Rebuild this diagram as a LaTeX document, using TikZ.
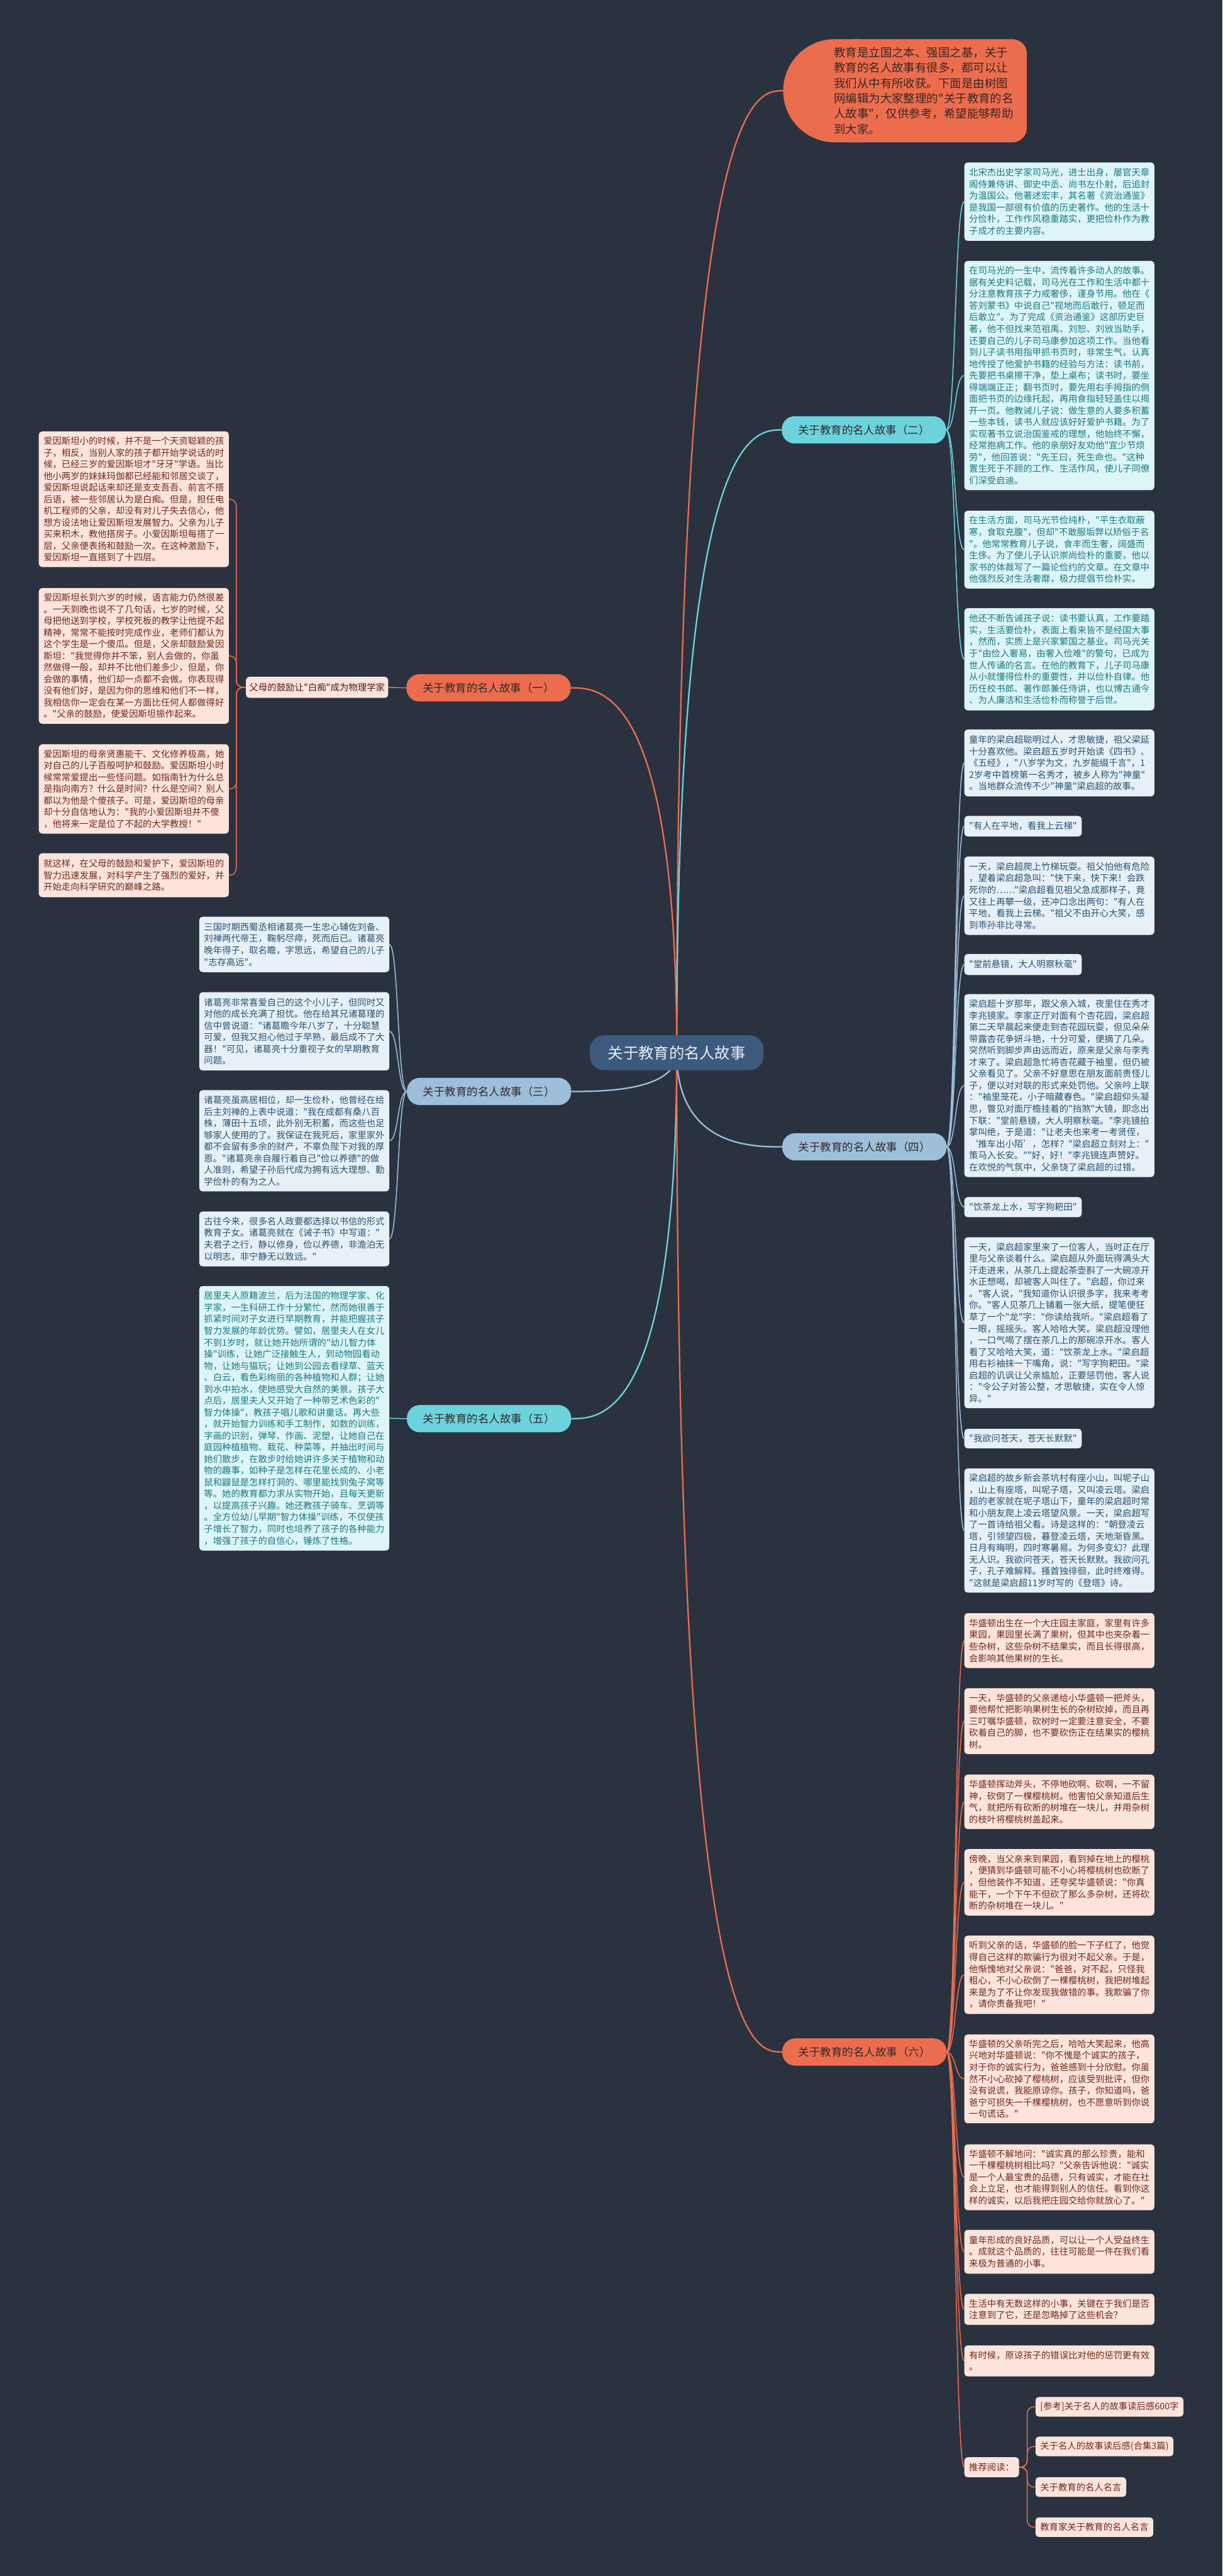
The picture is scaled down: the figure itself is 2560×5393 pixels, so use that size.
\documentclass[tikz,border=0pt]{standalone}
\usepackage{fontspec}
\newfontfamily\cjk{Noto Sans CJK SC}
\definecolor{bg}{HTML}{2A3240}
\definecolor{coral}{HTML}{EC6D4E}
\definecolor{cyanc}{HTML}{6CD3DD}
\definecolor{lblue}{HTML}{9DBFD9}
\definecolor{ctrc}{HTML}{3D5A7E}
\definecolor{ctrtext}{HTML}{E8EEF5}
\definecolor{brtext}{HTML}{33292A}
\definecolor{toptext}{HTML}{3A2723}
\definecolor{pinkfill}{HTML}{FCE4DC}
\definecolor{pinktext}{HTML}{6E2A1E}
\definecolor{cyfill}{HTML}{DDF5F7}
\definecolor{cytext}{HTML}{1A7A84}
\definecolor{blfill}{HTML}{E7F0F7}
\definecolor{bltext}{HTML}{2A5372}
\pgfdeclarelayer{bgl}
\pgfdeclarelayer{edges}
\pgfsetlayers{bgl,edges,main}
\newcommand{\bxfont}{\cjk\fontsize{18.9pt}{24.4pt}\selectfont}
\newcommand{\brfont}{\cjk\fontsize{23pt}{28pt}\selectfont}
\newcommand{\ctfont}{\cjk\fontsize{32pt}{38pt}\selectfont}
\newcommand{\tpfont}{\cjk\fontsize{24.3pt}{32pt}\selectfont}
\newcommand{\lbfont}{\cjk\fontsize{19pt}{22pt}\selectfont}
\tikzset{
  tbox/.style={rectangle, rounded corners=7pt, anchor=north west, text width=378pt, inner xsep=10pt, inner ysep=2pt, align=left, font=\bxfont},
  qbox/.style={rectangle, rounded corners=7pt, anchor=north west, inner xsep=10pt, inner ysep=2pt, align=left, font=\bxfont},
  pinkbox/.style={fill=pinkfill, text=pinktext},
  cybox/.style={fill=cyfill, text=cytext},
  blbox/.style={fill=blfill, text=bltext},
  branch/.style={rectangle, rounded corners=27pt, minimum width=344pt, minimum height=57pt, font=\brfont, inner sep=0pt},
  cline/.style={line width=3pt},
  sline/.style={line width=2pt},
}
\begin{document}
\begin{tikzpicture}[x=1pt,y=-1pt]
\useasboundingbox (0,0) rectangle (2560,5393);
\begin{pgfonlayer}{bgl}
\fill[bg] (0,0) rectangle (2560,5393);
\end{pgfonlayer}

% top bubble
\fill[coral, rounded corners=108pt] (1640,82) rectangle (1900,298);
\fill[coral, rounded corners=30pt] (1760,82) rectangle (2150,298);
\node[anchor=west, align=left, font=\tpfont, text=toptext, inner sep=0pt] (toptxt) at (1746,190) {教育是立国之本、强国之基，关于\\教育的名人故事有很多，都可以让\\我们从中有所收获。下面是由树图\\网编辑为大家整理的"关于教育的名\\人故事"，仅供参考，希望能够帮助\\到大家。};
\coordinate (topw) at (1640,190);

% center
\node[rectangle, rounded corners=30pt, fill=ctrc, text=ctrtext, minimum width=364pt, minimum height=73pt, font=\ctfont, inner sep=0pt] (ctr) at (1417,2204) {关于教育的名人故事};

% branches
\node[branch, fill=coral, text=brtext] (n1) at (1023,1440) {关于教育的名人故事（一）};
\node[branch, fill=cyanc, text=brtext] (n2) at (1809,900) {关于教育的名人故事（二）};
\node[branch, fill=lblue, text=brtext] (n3) at (1024,2285) {关于教育的名人故事（三）};
\node[branch, fill=lblue, text=brtext] (n4) at (1810,2401) {关于教育的名人故事（四）};
\node[branch, fill=cyanc, text=brtext] (n5) at (1024,2970) {关于教育的名人故事（五）};
\node[branch, fill=coral, text=brtext] (n6) at (1810,4296) {关于教育的名人故事（六）};

% (一)
\node[rectangle, rounded corners=7pt, fill=pinkfill, text=pinktext!70!black, minimum width=298pt, minimum height=44pt, font=\lbfont, inner sep=0pt] (lab) at (664,1439) {父母的鼓励让"白痴"成为物理学家};
\node[tbox, pinkbox, minimum height=284pt] (a1) at (81,903) {爱因斯坦小的时候，并不是一个天资聪颖的孩\\子，相反，当别人家的孩子都开始学说话的时\\候，已经三岁的爱因斯坦才"牙牙"学语。当比\\他小两岁的妹妹玛伽都已经能和邻居交谈了，\\爱因斯坦说起话来却还是支支吾吾、前言不搭\\后语，被一些邻居认为是白痴。但是，担任电\\机工程师的父亲，却没有对儿子失去信心，他\\想方设法地让爱因斯坦发展智力。父亲为儿子\\买来积木，教他搭房子。小爱因斯坦每搭了一\\层，父亲便表扬和鼓励一次。在这种激励下，\\爱因斯坦一直搭到了十四层。};
\node[tbox, pinkbox, minimum height=284pt] (a2) at (81,1231) {爱因斯坦长到六岁的时候，语言能力仍然很差\\。一天到晚也说不了几句话，七岁的时候，父\\母把他送到学校，学校死板的教学让他提不起\\精神，常常不能按时完成作业，老师们都认为\\这个学生是一个傻瓜。但是，父亲却鼓励爱因\\斯坦："我觉得你并不笨，别人会做的，你虽\\然做得一般，却并不比他们差多少，但是，你\\会做的事情，他们却一点都不会做。你表现得\\没有他们好，是因为你的思维和他们不一样，\\我相信你一定会在某一方面比任何人都做得好\\。"父亲的鼓励，使爱因斯坦振作起来。};
\node[tbox, pinkbox, minimum height=187pt] (a3) at (81,1558) {爱因斯坦的母亲贤惠能干、文化修养极高，她\\对自己的儿子百般呵护和鼓励。爱因斯坦小时\\候常常爱提出一些怪问题。如指南针为什么总\\是指向南方？什么是时间？什么是空间？别人\\都以为他是个傻孩子。可是，爱因斯坦的母亲\\却十分自信地认为："我的小爱因斯坦并不傻\\，他将来一定是位了不起的大学教授！"};
\node[tbox, pinkbox, minimum height=92pt] (a4) at (81,1786) {就这样，在父母的鼓励和爱护下，爱因斯坦的\\智力迅速发展，对科学产生了强烈的爱好，并\\开始走向科学研究的巅峰之路。};

% (二)
\node[tbox, cybox, minimum height=164pt] (e1) at (2019,340) {北宋杰出史学家司马光，进士出身，屡官天章\\阁侍兼侍讲、御史中丞、尚书左仆射，后追封\\为温国公。他著述宏丰，其名著《资治通鉴》\\是我国一部很有价值的历史著作。他的生活十\\分俭朴，工作作风稳重踏实，更把俭朴作为教\\子成才的主要内容。};
\node[tbox, cybox, minimum height=480pt] (e2) at (2019,546) {在司马光的一生中，流传着许多动人的故事。\\据有关史料记载，司马光在工作和生活中都十\\分注意教育孩子力戒奢侈，谨身节用。他在《\\答刘蒙书》中说自己"视地而后敢行，顿足而\\后敢立"。为了完成《资治通鉴》这部历史巨\\著，他不但找来范祖禹、刘恕、刘攽当助手，\\还要自己的儿子司马康参加这项工作。当他看\\到儿子读书用指甲抓书页时，非常生气，认真\\地传授了他爱护书籍的经验与方法：读书前，\\先要把书桌擦干净，垫上桌布；读书时，要坐\\得端端正正；翻书页时，要先用右手拇指的侧\\面把书页的边缘托起，再用食指轻轻盖住以揭\\开一页。他教诫儿子说：做生意的人要多积蓄\\一些本钱，读书人就应该好好爱护书籍。为了\\实现著书立说治国鉴戒的理想，他始终不懈，\\经常抱病工作。他的亲朋好友劝他"宜少节烦\\劳"，他回答说："先王曰，死生命也。"这种\\置生死于不顾的工作、生活作风，使儿子同僚\\们深受启迪。};
\node[tbox, cybox, minimum height=163pt] (e3) at (2019,1069) {在生活方面，司马光节俭纯朴，"平生衣取蔽\\寒，食取充腹"，但却"不敢服垢弊以矫俗于名\\"。他常常教育儿子说，食丰而生奢，阔盛而\\生侈。为了使儿子认识崇尚俭朴的重要，他以\\家书的体裁写了一篇论俭约的文章。在文章中\\他强烈反对生活奢靡，极力提倡节俭朴实。};
\node[tbox, cybox, minimum height=214pt] (e4) at (2019,1273) {他还不断告诫孩子说：读书要认真，工作要踏\\实，生活要俭朴，表面上看来皆不是经国大事\\，然而，实质上是兴家繁国之基业。司马光关\\于"由俭入奢易，由奢入俭难"的警句，已成为\\世人传诵的名言。在他的教育下，儿子司马康\\从小就懂得俭朴的重要性，并以俭朴自律。他\\历任校书郎、著作郎兼任侍讲，也以博古通今\\、为人廉洁和生活俭朴而称誉于后世。};

% (三)
\node[tbox, blbox, minimum height=116pt] (b1) at (417,1919) {三国时期西蜀丞相诸葛亮一生忠心辅佐刘备、\\刘禅两代帝王，鞠躬尽瘁，死而后已。诸葛亮\\晚年得子，取名瞻，字思远，希望自己的儿子\\"志存高远"。};
\node[tbox, blbox, minimum height=164pt] (b2) at (417,2077) {诸葛亮非常喜爱自己的这个小儿子，但同时又\\对他的成长充满了担忧。他在给其兄诸葛瑾的\\信中曾说道："诸葛瞻今年八岁了，十分聪慧\\可爱，但我又担心他过于早熟，最后成不了大\\器！"可见，诸葛亮十分重视子女的早期教育\\问题。};
\node[tbox, blbox, minimum height=212pt] (b3) at (417,2282) {诸葛亮虽高居相位，却一生俭朴，他曾经在给\\后主刘禅的上表中说道："我在成都有桑八百\\株，薄田十五顷，此外别无积蓄，而这些也足\\够家人使用的了。我保证在我死后，家里家外\\都不会留有多余的财产，不辜负陛下对我的厚\\恩。"诸葛亮亲自履行着自己"俭以养德"的做\\人准则，希望子孙后代成为拥有远大理想、勤\\学俭朴的有为之人。};
\node[tbox, blbox, minimum height=115pt] (b4) at (417,2536) {古往今来，很多名人政要都选择以书信的形式\\教育子女。诸葛亮就在《诫子书》中写道："\\夫君子之行，静以修身，俭以养德，非澹泊无\\以明志，非宁静无以致远。"};

% (四)
\node[tbox, blbox, minimum height=140pt] (f1) at (2019,1527) {童年的梁启超聪明过人，才思敏捷，祖父梁延\\十分喜欢他。梁启超五岁时开始读《四书》、\\《五经》，"八岁学为文，九岁能缀千言"，1\\2岁考中首榜第一名秀才，被乡人称为"神童"\\。当地群众流传不少"神童"梁启超的故事。};
\node[qbox, blbox, minimum height=43pt] (f2) at (2019,1708) {"有人在平地，看我上云梯"};
\node[tbox, blbox, minimum height=164pt] (f3) at (2019,1793) {一天，梁启超爬上竹梯玩耍。祖父怕他有危险\\，望着梁启超急叫："快下来，快下来！会跌\\死你的……"梁启超看见祖父急成那样子，竟\\又往上再攀一级，还冲口念出两句："有人在\\平地，看我上云梯。"祖父不由开心大笑，感\\到乖孙非比寻常。};
\node[qbox, blbox, minimum height=44pt] (f4) at (2019,1997) {"堂前悬镜，大人明察秋毫"};
\node[tbox, blbox, minimum height=383pt] (f5) at (2019,2081) {梁启超十岁那年，跟父亲入城，夜里住在秀才\\李兆镜家。李家正厅对面有个杏花园，梁启超\\第二天早晨起来便走到杏花园玩耍，但见朵朵\\带露杏花争妍斗艳，十分可爱，便摘了几朵。\\突然听到脚步声由远而近，原来是父亲与李秀\\才来了。梁启超急忙将杏花藏于袖里，但仍被\\父亲看见了。父亲不好意思在朋友面前责怪儿\\子，便以对对联的形式来处罚他。父亲吟上联\\："袖里笼花，小子暗藏春色。"梁启超仰头凝\\思，瞥见对面厅檐挂着的"挡煞"大镜，即念出\\下联："堂前悬镜，大人明察秋毫。"李兆镜拍\\掌叫绝，于是道："让老夫也来考一考贤侄，\\‘推车出小陌’，怎样？"梁启超立刻对上："\\策马入长安。""好，好！"李兆镜连声赞好。\\在欢悦的气氛中，父亲饶了梁启超的过错。};
\node[qbox, blbox, minimum height=42pt] (f6) at (2019,2506) {"饮茶龙上水，写字狗耙田"};
\node[tbox, blbox, minimum height=358pt] (f7) at (2019,2590) {一天，梁启超家里来了一位客人，当时正在厅\\里与父亲谈着什么。梁启超从外面玩得满头大\\汗走进来，从茶几上提起茶壶斟了一大碗凉开\\水正想喝，却被客人叫住了。"启超，你过来\\。"客人说，"我知道你认识很多字，我来考考\\你。"客人见茶几上铺着一张大纸，提笔便狂\\草了一个"龙"字："你读给我听。"梁启超看了\\一眼，摇摇头。客人哈哈大笑。梁启超没理他\\，一口气喝了摆在茶几上的那碗凉开水。客人\\看了又哈哈大笑，道："饮茶龙上水。"梁启超\\用右衫袖抹一下嘴角，说："写字狗耙田。"梁\\启超的讥讽让父亲尴尬，正要惩罚他，客人说\\："令公子对答公整，才思敏捷，实在令人惊\\异。"};
\node[qbox, blbox, minimum height=41pt] (f8) at (2019,2991) {"我欲问苍天，苍天长默默"};
\node[tbox, blbox, minimum height=260pt] (f9) at (2019,3074) {梁启超的故乡新会茶坑村有座小山，叫坭子山\\，山上有座塔，叫坭子塔，又叫凌云塔。梁启\\超的老家就在坭子塔山下，童年的梁启超时常\\和小朋友爬上凌云塔望风景。一天，梁启超写\\了一首诗给祖父看。诗是这样的："朝登凌云\\塔，引领望四极，暮登凌云塔，天地渐昏黑。\\日月有晦明，四时寒暑易。为何多变幻？此理\\无人识。我欲问苍天，苍天长默默。我欲问孔\\子，孔子难解释。搔首独徘徊，此时终难得。\\"这就是梁启超11岁时写的《登塔》诗。};

% (五)
\node[tbox, cybox, minimum height=554pt] (d1) at (417,2692) {居里夫人原籍波兰，后为法国的物理学家、化\\学家，一生科研工作十分繁忙，然而她很善于\\抓紧时间对子女进行早期教育，并能把握孩子\\智力发展的年龄优势。譬如，居里夫人在女儿\\不到1岁时，就让她开始所谓的"幼儿智力体\\操"训练，让她广泛接触生人，到动物园看动\\物，让她与猫玩；让她到公园去看绿草、蓝天\\、白云，看色彩绚丽的各种植物和人群；让她\\到水中拍水，使她感受大自然的美景。孩子大\\点后，居里夫人又开始了一种带艺术色彩的"\\智力体操"，教孩子唱儿歌和讲童话。再大些\\，就开始智力训练和手工制作，如数的训练，\\字画的识别，弹琴、作画、泥塑，让她自己在\\庭园种植植物、栽花、种菜等，并抽出时间与\\她们散步，在散步时给她讲许多关于植物和动\\物的趣事，如种子是怎样在花里长成的、小老\\鼠和鼹鼠是怎样打洞的、哪里能找到兔子窝等\\等。她的教育都力求从实物开始，且每天更新\\，以提高孩子兴趣。她还教孩子骑车、烹调等\\。全方位幼儿早期"智力体操"训练，不仅使孩\\子增长了智力，同时也培养了孩子的各种能力\\，增强了孩子的自信心，锤炼了性格。};

% (六)
\node[tbox, pinkbox, minimum height=115pt] (g1) at (2019,3377) {华盛顿出生在一个大庄园主家庭，家里有许多\\果园，果园里长满了果树，但其中也夹杂着一\\些杂树，这些杂树不结果实，而且长得很高，\\会影响其他果树的生长。};
\node[tbox, pinkbox, minimum height=138pt] (g2) at (2019,3534) {一天，华盛顿的父亲递给小华盛顿一把斧头，\\要他帮忙把影响果树生长的杂树砍掉，而且再\\三叮嘱华盛顿，砍树时一定要注意安全，不要\\砍着自己的脚，也不要砍伤正在结果实的樱桃\\树。};
\node[tbox, pinkbox, minimum height=114pt] (g3) at (2019,3715) {华盛顿挥动斧头，不停地砍啊、砍啊，一不留\\神，砍倒了一棵樱桃树。他害怕父亲知道后生\\气，就把所有砍断的树堆在一块儿，并用杂树\\的枝叶将樱桃树盖起来。};
\node[tbox, pinkbox, minimum height=139pt] (g4) at (2019,3871) {傍晚，当父亲来到果园，看到掉在地上的樱桃\\，便猜到华盛顿可能不小心将樱桃树也砍断了\\，但他装作不知道，还夸奖华盛顿说："你真\\能干，一个下午不但砍了那么多杂树，还将砍\\断的杂树堆在一块儿。"};
\node[tbox, pinkbox, minimum height=164pt] (g5) at (2019,4052) {听到父亲的话，华盛顿的脸一下子红了，他觉\\得自己这样的欺骗行为很对不起父亲。于是，\\他惭愧地对父亲说："爸爸，对不起，只怪我\\粗心，不小心砍倒了一棵樱桃树，我把树堆起\\来是为了不让你发现我做错的事。我欺骗了你\\，请你责备我吧！"};
\node[tbox, pinkbox, minimum height=186pt] (g6) at (2019,4259) {华盛顿的父亲听完之后，哈哈大笑起来，他高\\兴地对华盛顿说："你不愧是个诚实的孩子，\\对于你的诚实行为，爸爸感到十分欣慰。你虽\\然不小心砍掉了樱桃树，应该受到批评，但你\\没有说谎，我能原谅你。孩子，你知道吗，爸\\爸宁可损失一千棵樱桃树，也不愿意听到你说\\一句谎话。"};
\node[tbox, pinkbox, minimum height=138pt] (g7) at (2019,4489) {华盛顿不解地问："诚实真的那么珍贵，能和\\一千棵樱桃树相比吗？"父亲告诉他说："诚实\\是一个人最宝贵的品德，只有诚实，才能在社\\会上立足，也才能得到别人的信任。看到你这\\样的诚实，以后我把庄园交给你就放心了。"};
\node[tbox, pinkbox, minimum height=92pt] (g8) at (2019,4668) {童年形成的良好品质，可以让一个人受益终生\\。成就这个品质的，往往可能是一件在我们看\\来极为普通的小事。};
\node[tbox, pinkbox, minimum height=65pt] (g9) at (2019,4802) {生活中有无数这样的小事，关键在于我们是否\\注意到了它，还是忽略掉了这些机会？};
\node[tbox, pinkbox, minimum height=65pt] (g10) at (2019,4910) {有时候，原谅孩子的错误比对他的惩罚更有效\\。};
\node[qbox, pinkbox, minimum height=42pt] (tj) at (2019,5144) {推荐阅读：};
\node[qbox, pinkbox, minimum height=41pt] (r1) at (2168,5018) {[参考]关于名人的故事读后感600字};
\node[qbox, pinkbox, minimum height=41pt] (r2) at (2168,5101) {关于名人的故事读后感(合集3篇)};
\node[qbox, pinkbox, minimum height=41pt] (r3) at (2168,5186) {关于教育的名人名言};
\node[qbox, pinkbox, minimum height=41pt] (r4) at (2168,5270) {教育家关于教育的名人名言};

\begin{pgfonlayer}{edges}
\draw[cline, coral] (ctr.center) .. controls (1417,190) and (1578,190) .. (topw);
\draw[cline, cyanc] (ctr.center) .. controls (1417,900) and (1576,900) .. (n2.west);
\draw[cline, coral] (ctr.center) .. controls (1417,1440) and (1257,1440) .. (n1.east);
\draw[cline, lblue] (ctr.center) .. controls (1417,2285) and (1259,2285) .. (n3.east);
\draw[cline, lblue] (ctr.center) .. controls (1417,2401) and (1575,2401) .. (n4.west);
\draw[cline, cyanc] (ctr.center) .. controls (1417,2970) and (1259,2970) .. (n5.east);
\draw[cline, coral] (ctr.center) .. controls (1417,4296) and (1576,4296) .. (n6.west);
\draw[sline, coral] (n1.west) -- (lab.east);
\foreach \c in {a1,a2,a3,a4} {\draw[sline, coral, rounded corners=14pt] (lab.west) -- ++(-20,0) |- (\c.east);}
\foreach \c in {e1,e2,e3,e4} {\draw[sline, cyanc] (n2.east) .. controls +(20,0) and +(-20,0) .. (\c.west);}
\foreach \c in {b1,b2,b3,b4} {\draw[sline, lblue] (n3.west) .. controls +(-19,0) and +(19,0) .. (\c.east);}
\foreach \c in {f1,f2,f3,f4,f5,f6,f7,f8,f9} {\draw[sline, lblue] (n4.east) .. controls +(19,0) and +(-19,0) .. (\c.west);}
\draw[sline, cyanc] (n5.west) .. controls +(-19,0) and +(19,0) .. (d1.east);
\foreach \c in {g1,g2,g3,g4,g5,g6,g7,g8,g9,g10,tj} {\draw[sline, coral] (n6.east) .. controls +(19,0) and +(-19,0) .. (\c.west);}
\foreach \c in {r1,r2,r3,r4} {\draw[sline, coral, rounded corners=14pt] (tj.east) -- ++(17,0) |- (\c.west);}
\end{pgfonlayer}
\end{tikzpicture}
\end{document}
